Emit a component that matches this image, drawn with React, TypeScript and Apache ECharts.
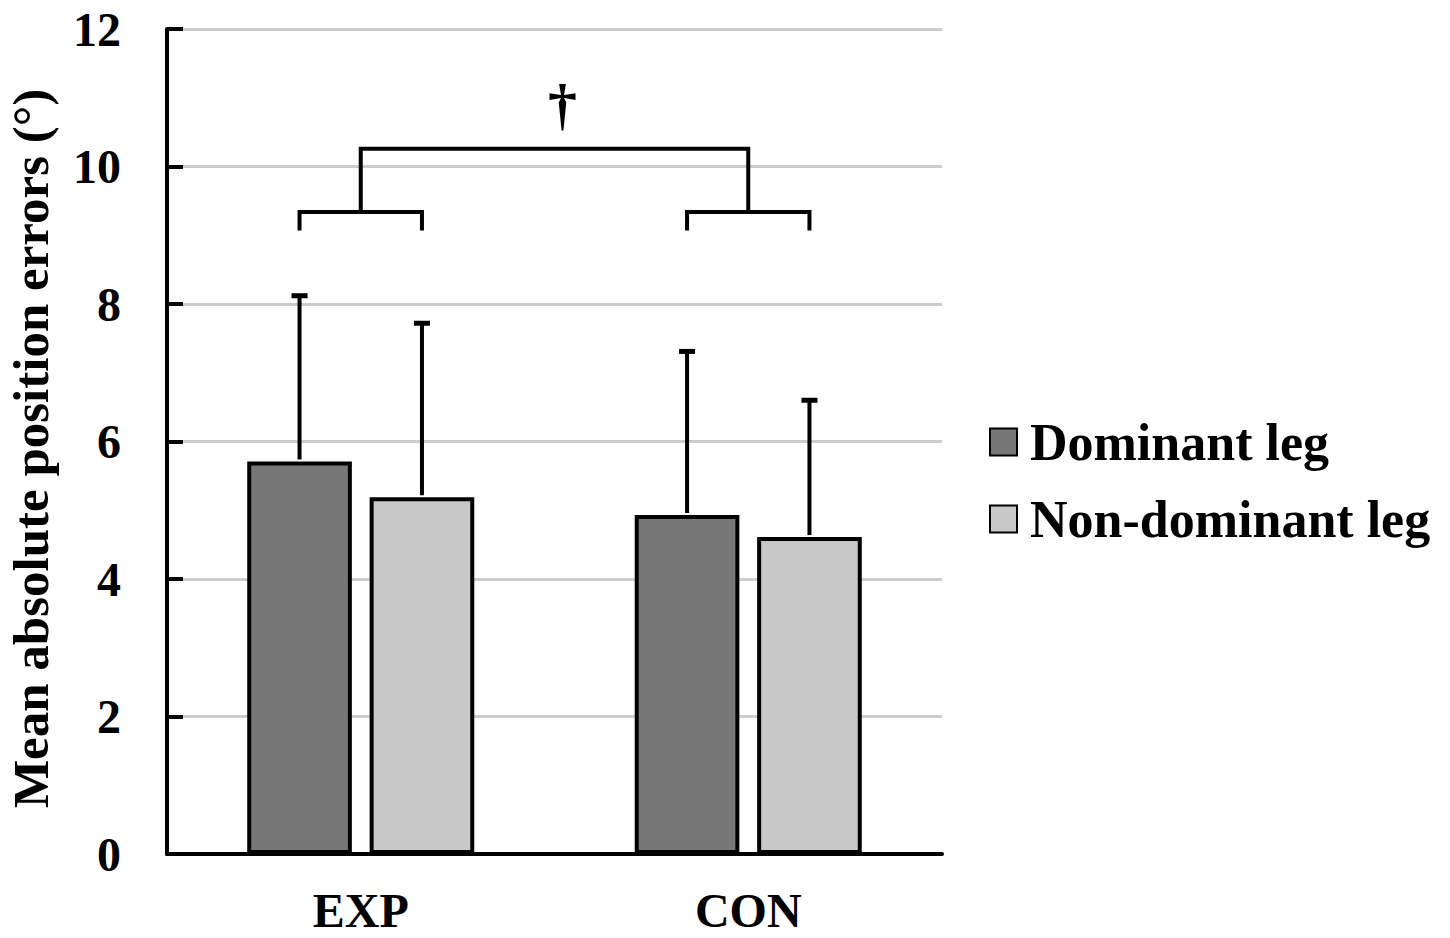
import React, { useEffect, useRef } from "react";
import * as echarts from "echarts";

const categories = ["EXP", "CON"];
const seriesNames = ["Dominant leg", "Non-dominant leg"];
const dominantMeans = [5.71, 4.93];
const dominantSD = [2.41, 2.38];
const nonDominantMeans = [5.19, 4.61];
const nonDominantSD = [2.53, 1.99];
const yTicks = [0, 2, 4, 6, 8, 10, 12];

// within-group brackets: [categoryIndex, barY, legBottomY]
const groupBrackets = [
  [0, 9.34, 9.07],
  [1, 9.34, 9.07],
];
// between-group bracket: [fromCategory, toCategory, barY, legBottomY, markY]
const betweenBrackets = [[0, 1, 10.26, 9.34, 10.9]];
const betweenMark = "†";

const FONT = "'Liberation Serif', 'Times New Roman', serif";
const DARK = "#777777";
const LIGHT = "#c8c8c8";
const BAR_W = 0.27;
const BAR_GAP = 0.17;
const W = 1450;
const H = 938;

function barOffset(api: any, sign: number) {
  const band = api.size([1, 0])[0];
  const bw = band * BAR_W;
  return ((bw + bw * BAR_GAP) / 2) * sign;
}

function errorSeries(means: number[], sds: number[], sign: number) {
  return {
    type: "custom",
    z: 5,
    silent: true,
    data: means.map((m, i) => [i, m, sds[i]]),
    encode: { x: 0, y: 1 },
    renderItem: (params: any, api: any) => {
      const c = api.value(0);
      const m = api.value(1);
      const sd = api.value(2);
      const off = barOffset(api, sign);
      const p0 = api.coord([c, m]);
      const p1 = api.coord([c, m + sd]);
      const x = p0[0] + off;
      return {
        type: "group",
        children: [
          { type: "line", shape: { x1: x, y1: p0[1] - 2, x2: x, y2: p1[1] }, style: { stroke: "#000", lineWidth: 4 } },
          { type: "line", shape: { x1: x - 8, y1: p1[1], x2: x + 8, y2: p1[1] }, style: { stroke: "#000", lineWidth: 5 } },
        ],
      };
    },
  };
}

export default function App() {
  const ref = useRef<HTMLDivElement>(null);
  useEffect(() => {
    if (!ref.current) return;
    document.body.style.margin = "0";
    const chart = echarts.init(ref.current, null, { renderer: "svg", width: W, height: H });
    const lineStyle = { stroke: "#000", lineWidth: 4 };
    chart.setOption({
      animation: false,
      backgroundColor: "#ffffff",
      grid: {
        left: 167,
        right: 508,
        top: 29,
        bottom: 84,
        containLabel: false,
        outerBoundsMode: "none",
      },
      legend: {
        orient: "vertical",
        left: 984,
        top: 409,
        itemWidth: 27,
        itemHeight: 27,
        itemGap: 21,
        icon: "rect",
        data: seriesNames,
        textStyle: {
          fontFamily: FONT,
          fontWeight: "bold",
          fontSize: 52,
          color: "#000",
          lineHeight: 56,
          padding: [0, 0, 0, 8],
        },
      },
      xAxis: {
        type: "category",
        data: categories,
        axisTick: { show: false },
        axisLine: { lineStyle: { color: "#000", width: 4 } },
        axisLabel: {
          margin: 41,
          lineHeight: 30,
          fontFamily: FONT,
          fontWeight: "bold",
          fontSize: 48,
          color: "#000",
        },
      },
      yAxis: {
        type: "value",
        min: 0,
        max: 12,
        interval: 2,
        name: "Mean absolute position errors (°)",
        nameLocation: "middle",
        nameGap: 114,
        nameTextStyle: {
          fontFamily: FONT,
          fontWeight: "bold",
          fontSize: 51,
          lineHeight: 44,
          color: "#000",
          padding: [0, 14, 0, 0],
        },
        axisLine: { show: true, lineStyle: { color: "#000", width: 4 } },
        axisTick: { show: true, inside: true, length: 16, lineStyle: { color: "#000", width: 4 } },
        axisLabel: {
          margin: 46,
          fontFamily: FONT,
          fontWeight: "bold",
          fontSize: 48,
          color: "#000",
          formatter: (v: number) => (yTicks.includes(v) ? String(v) : ""),
        },
        splitLine: { show: true, lineStyle: { color: "#cccccc", width: 3 } },
      },
      series: [
        {
          name: seriesNames[0],
          type: "bar",
          data: dominantMeans,
          barWidth: BAR_W * 100 + "%",
          barGap: BAR_GAP * 100 + "%",
          itemStyle: { color: DARK, borderColor: "#000", borderWidth: 4 },
        },
        {
          name: seriesNames[1],
          type: "bar",
          data: nonDominantMeans,
          barWidth: BAR_W * 100 + "%",
          barGap: BAR_GAP * 100 + "%",
          itemStyle: { color: LIGHT, borderColor: "#000", borderWidth: 4 },
        },
        errorSeries(dominantMeans, dominantSD, -1),
        errorSeries(nonDominantMeans, nonDominantSD, 1),
        {
          type: "custom",
          z: 6,
          silent: true,
          clip: false,
          data: groupBrackets,
          encode: { x: 0, y: 1 },
          renderItem: (params: any, api: any) => {
            const c = api.value(0);
            const top = api.coord([c, api.value(1)]);
            const bot = api.coord([c, api.value(2)]);
            const xl = top[0] + barOffset(api, -1);
            const xr = top[0] + barOffset(api, 1);
            return {
              type: "polyline",
              shape: { points: [[xl, bot[1]], [xl, top[1]], [xr, top[1]], [xr, bot[1]]] },
              style: { ...lineStyle, fill: null },
            };
          },
        },
        {
          type: "custom",
          z: 6,
          silent: true,
          clip: false,
          data: betweenBrackets,
          encode: { x: 0, y: 2 },
          renderItem: (params: any, api: any) => {
            const a = api.coord([api.value(0), api.value(2)]);
            const b = api.coord([api.value(1), api.value(2)]);
            const leg = api.coord([api.value(0), api.value(3)]);
            const mark = api.coord([api.value(0), api.value(4)]);
            return {
              type: "group",
              children: [
                {
                  type: "polyline",
                  shape: { points: [[a[0], leg[1]], [a[0], a[1]], [b[0], b[1]], [b[0], leg[1]]] },
                  style: { ...lineStyle, fill: null },
                },
                {
                  type: "text",
                  x: (a[0] + b[0]) / 2 + 8,
                  y: mark[1],
                  style: {
                    text: betweenMark,
                    fontFamily: FONT,
                    fontWeight: "bold",
                    fontSize: 58,
                    fill: "#000",
                    align: "center",
                    verticalAlign: "middle",
                  },
                },
              ],
            };
          },
        },
      ],
    });
    return () => chart.dispose();
  }, []);
  return (
    <div
      ref={ref}
      style={{ position: "fixed", left: 0, top: 0, width: W, height: H }}
    />
  );
}
